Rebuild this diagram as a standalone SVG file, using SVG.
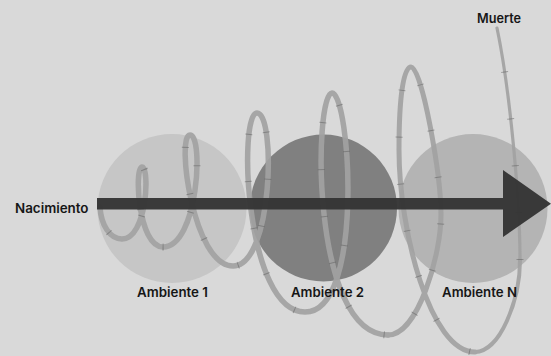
<svg xmlns="http://www.w3.org/2000/svg" width="551" height="356" viewBox="0 0 551 356">
  <style>
    .lbl { font-family: Inter, "Noto Sans", "Liberation Sans", sans-serif; font-size: 13px; font-weight: 600; fill: #161616; }
    .sp { fill: none; stroke: #a2a2a2; stroke-linecap: round; stroke-linejoin: round; }
    .tick { fill: none; stroke: #606060; stroke-width: 7; stroke-dasharray: 1 46; opacity: 0.5; }
  </style>
  <defs>
    <path id="s1" d="M100,207 C101,225 110,239 122,239 C147,239 150,167 142,167 C134,167 138,247 163,247 C198,247 204,135 190,135 C176,135 193,266 233,266 C273,266 276,113 257,113 C238,113 245,312 305,312 C365,312 350,93 332,93 C314,93 310,335 388,335"/>
    <path id="s2" d="M388,335 C418,335 441,255 441,215 C441,175 422,67 411,67 C403,67 399,100 399,150 C399,230 430,352 475,352"/>
    <path id="s3" d="M475,352 C500,352 520,300 520,260"/>
    <path id="s4" d="M520,260 C520,200 510,90 497,28"/>
  </defs>
  <rect width="551" height="356" fill="#d9d9d9"/>

  <g id="ambiente-1"><circle cx="172" cy="208.5" r="74.5" fill="#c6c6c6"/></g>
  <g id="ambiente-2"><circle cx="323.5" cy="208" r="73.5" fill="#808080"/></g>
  <g id="ambiente-n"><circle cx="473" cy="208.5" r="74.5" fill="#b4b4b4"/></g>

  <g id="connectors">
    <g id="spiral" opacity="0.92">
      <use href="#s1" class="sp" stroke-width="5.5"/>
      <use href="#s2" class="sp" stroke-width="5"/>
      <use href="#s3" class="sp" stroke-width="4"/>
      <use href="#s4" class="sp" stroke-width="3.2"/>
    </g>
    <g id="spiral-ticks">
      <use href="#s1" class="tick" stroke-dashoffset="20"/>
      <use href="#s2" class="tick" stroke-dashoffset="12"/>
      <use href="#s4" class="tick" stroke-width="5"/>
    </g>
    <path id="life-arrow" d="M97,198 H503 V170 L551,203.7 L503,237 V209.5 H97 Z" fill="#333333" opacity="0.95"/>
  </g>

  <g id="nacimiento"><text class="lbl" x="15" y="213" textLength="73.5" lengthAdjust="spacingAndGlyphs">Nacimiento</text></g>
  <g id="muerte"><text class="lbl" x="477" y="23" textLength="44" lengthAdjust="spacingAndGlyphs">Muerte</text></g>
  <g id="label-ambiente-1"><text class="lbl" x="137" y="297" textLength="71" lengthAdjust="spacingAndGlyphs">Ambiente 1</text></g>
  <g id="label-ambiente-2"><text class="lbl" x="291" y="297" textLength="73" lengthAdjust="spacingAndGlyphs">Ambiente 2</text></g>
  <g id="label-ambiente-n"><text class="lbl" x="442" y="297" textLength="75" lengthAdjust="spacingAndGlyphs">Ambiente N</text></g>
</svg>
